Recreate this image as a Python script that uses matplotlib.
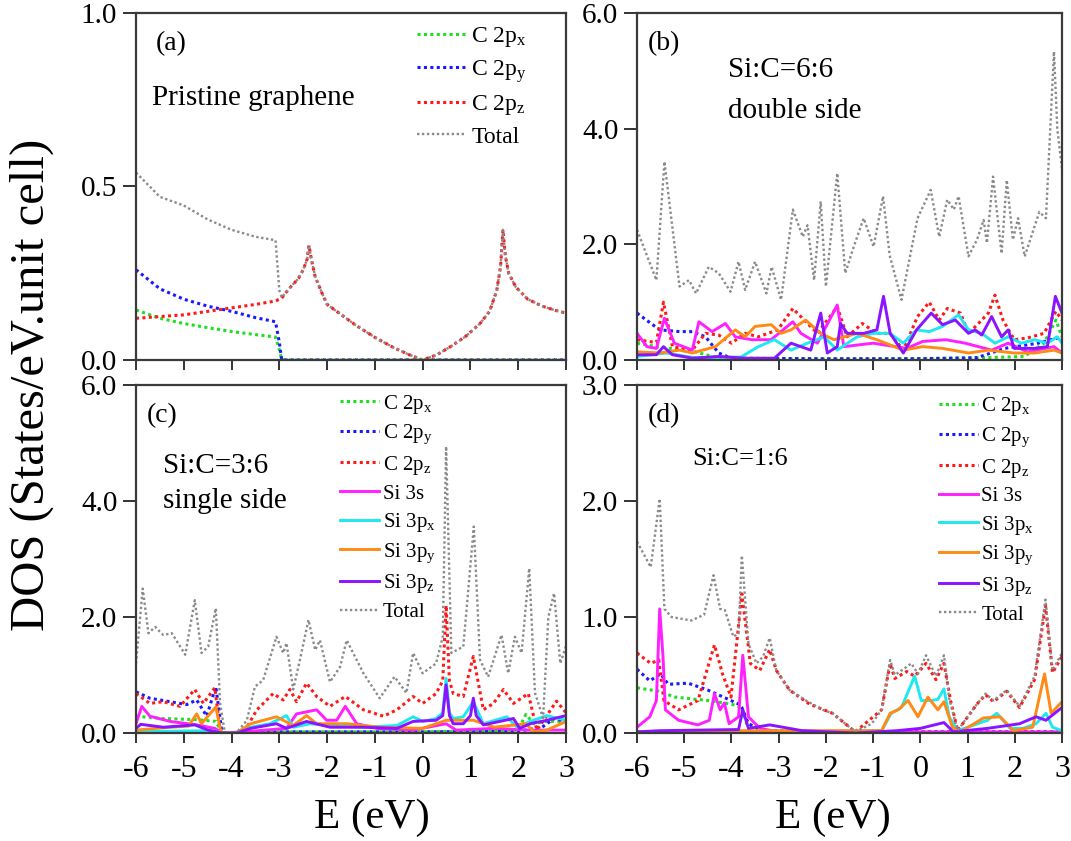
import matplotlib
matplotlib.use("Agg")
import matplotlib.pyplot as plt

plt.rcParams["font.family"] = ["Liberation Serif", "DejaVu Serif"]
plt.rcParams["mathtext.fontset"] = "custom"
plt.rcParams["mathtext.rm"] = "Liberation Serif"
plt.rcParams["axes.unicode_minus"] = False

# ---- (a) pristine graphene ----
a_e = [-6.0, -5.5, -5.0, -4.5, -4.0, -3.5, -3.08, -3.0, -2.95, -2.8, -2.6, -2.5, -2.42, -2.38, -2.33,
       -2.25, -2.1, -2.0, -1.8, -1.4, -1.0, -0.6, -0.3, 0.0, 0.3, 0.6, 0.9, 1.2, 1.4, 1.55,
       1.63, 1.68, 1.73, 1.8, 1.95, 2.2, 2.5, 2.8, 3.0]
a_px = [0.144, 0.12, 0.105, 0.093, 0.082, 0.073, 0.066, 0.03, 0.0, 0, 0, 0, 0, 0, 0,
        0, 0, 0, 0, 0, 0, 0, 0, 0, 0, 0, 0, 0, 0, 0,
        0, 0, 0, 0, 0, 0, 0, 0, 0]
a_py = [0.26, 0.205, 0.175, 0.155, 0.14, 0.122, 0.11, 0.05, 0.0, 0, 0, 0, 0, 0, 0,
        0, 0, 0, 0, 0, 0, 0, 0, 0, 0, 0, 0, 0, 0, 0,
        0, 0, 0, 0, 0, 0, 0, 0, 0]
a_pz = [0.12, 0.125, 0.13, 0.14, 0.15, 0.16, 0.17, 0.175, 0.178, 0.205, 0.235, 0.26, 0.29, 0.33, 0.29,
        0.24, 0.19, 0.16, 0.14, 0.10, 0.065, 0.035, 0.016, 0.0, 0.015, 0.04, 0.068, 0.105, 0.14, 0.2,
        0.27, 0.375, 0.3, 0.25, 0.21, 0.175, 0.155, 0.142, 0.135]
a_total = [0.54, 0.47, 0.445, 0.405, 0.375, 0.355, 0.345, 0.2, 0.18, 0.205, 0.235, 0.26, 0.29, 0.33, 0.29,
           0.24, 0.19, 0.16, 0.14, 0.10, 0.065, 0.035, 0.016, 0.0, 0.015, 0.04, 0.068, 0.105, 0.14, 0.2,
           0.27, 0.375, 0.3, 0.25, 0.21, 0.175, 0.155, 0.142, 0.135]

# ---- (b) Si:C = 6:6, double side ----
b_cpx_e = [-6.0, -5.59, -5.3, -4.9, -4.27, -3.0, -1.0, 1.0, 2.2, 2.62, 2.87, 3.0]
b_cpx = [0.29, 0.23, 0.2, 0.17, 0.03, 0.02, 0.02, 0.03, 0.06, 0.29, 0.69, 0.4]
b_cpy_e = [-6.0, -5.52, -5.1, -4.83, -4.55, -4.27, -4.0, -2.0, 0.0, 1.2, 1.79, 2.49, 3.0]
b_cpy = [0.81, 0.52, 0.49, 0.49, 0.40, 0.12, 0.03, 0.02, 0.02, 0.04, 0.2, 0.29, 0.4]
b_cpz_e = [-6.0, -5.59, -5.44, -5.25, -4.83, -4.55, -4.27, -4.0, -3.71, -3.43, -3.02, -2.70, -2.46, -2.18,
           -1.76, -1.55, -1.23, -0.92, -0.64, -0.36, -0.06, 0.19, 0.40, 0.57, 0.85, 1.02, 1.23, 1.44,
           1.58, 1.75, 1.99, 2.27, 2.62, 2.87, 3.0]
b_cpz = [0.35, 0.3, 1.0, 0.23, 0.17, 0.46, 0.43, 0.29, 0.46, 0.4, 0.52, 0.89, 0.69, 0.46,
         0.92, 0.40, 0.63, 0.46, 0.46, 0.17, 0.75, 1.0, 0.69, 0.89, 0.81, 0.46, 0.63, 0.81,
         1.12, 0.69, 0.35, 0.38, 0.46, 0.84, 0.69]
b_s_e = [-6.0, -5.79, -5.59, -5.42, -5.21, -4.83, -4.69, -4.41, -4.13, -3.92, -3.57, -3.16, -2.70, -2.53,
         -2.18, -1.76, -1.62, -1.0, -0.29, 0.05, 0.54, 0.95, 1.51, 1.86, 2.27, 2.83, 3.0]
b_s = [0.46, 0.23, 0.2, 0.72, 0.29, 0.17, 0.66, 0.49, 0.63, 0.40, 0.35, 0.35, 0.66, 0.46,
       0.29, 0.95, 0.23, 0.29, 0.2, 0.32, 0.35, 0.29, 0.17, 0.29, 0.14, 0.23, 0.12]
b_px_e = [-6.0, -5.38, -4.8, -3.8, -3.43, -3.09, -2.74, -2.39, -2.04, -1.76, -1.34, -0.99, -0.64, -0.36,
          -0.08, 0.19, 0.47, 0.81, 1.02, 1.30, 1.58, 1.86, 2.14, 2.42, 2.69, 2.9, 3.0]
b_px = [0.06, 0.12, 0.04, 0.05, 0.23, 0.35, 0.17, 0.29, 0.40, 0.17, 0.40, 0.46, 0.46, 0.29,
        0.52, 0.49, 0.58, 0.78, 0.52, 0.46, 0.29, 0.40, 0.29, 0.35, 0.29, 0.40, 0.29]
b_py_e = [-6.0, -5.52, -5.10, -4.83, -4.34, -3.92, -3.71, -3.50, -3.16, -2.95, -2.74, -2.43, -2.11,
          -1.83, -1.34, -0.92, -0.36, 0.05, 0.47, 1.02, 1.44, 1.99, 2.42, 2.83, 3.0]
b_py = [0.14, 0.12, 0.17, 0.12, 0.23, 0.52, 0.40, 0.58, 0.61, 0.46, 0.52, 0.69, 0.46,
        0.35, 0.46, 0.35, 0.17, 0.23, 0.2, 0.12, 0.17, 0.12, 0.12, 0.17, 0.12]
b_pz_e = [-6.0, -5.59, -5.44, -5.25, -4.83, -4.27, -3.71, -3.09, -2.74, -2.32, -2.11, -1.97, -1.76,
          -1.69, -1.55, -1.20, -0.92, -0.78, -0.64, -0.36, -0.08, 0.23, 0.47, 0.74, 1.02, 1.16,
          1.30, 1.51, 1.72, 1.86, 1.99, 2.42, 2.69, 2.86, 3.0]
b_pz = [0.09, 0.09, 0.23, 0.09, 0.03, 0.06, 0.03, 0.03, 0.29, 0.17, 0.81, 0.12, 0.23,
        0.63, 0.46, 0.46, 0.52, 1.1, 0.46, 0.12, 0.52, 0.81, 0.61, 0.69, 0.46, 0.52,
        0.43, 0.75, 0.40, 0.52, 0.2, 0.2, 0.23, 1.1, 0.81]
b_total_e = [-6.0, -5.59, -5.42, -5.10, -4.90, -4.75, -4.48, -4.27, -4.02, -3.85, -3.71, -3.5, -3.26,
             -3.15, -2.95, -2.70, -2.49, -2.39, -2.25, -2.11, -2.0, -1.76, -1.59, -1.41, -1.20,
             -0.99, -0.79, -0.65, -0.40, -0.06, 0.22, 0.40, 0.57, 0.71, 0.81, 1.02, 1.20, 1.34,
             1.41, 1.54, 1.72, 1.83, 1.96, 2.07, 2.21, 2.52, 2.66, 2.83, 2.9, 3.0]
b_total = [2.25, 1.38, 3.43, 1.27, 1.38, 1.15, 1.61, 1.5, 1.18, 1.70, 1.21, 1.70, 1.15,
           1.61, 1.04, 2.6, 2.13, 2.33, 1.38, 2.74, 1.27, 3.23, 1.5, 1.96, 2.45,
           1.96, 2.83, 1.81, 1.04, 2.45, 2.94, 2.13, 2.77, 2.6, 2.83, 1.79, 2.08, 2.42,
           2.02, 3.17, 1.84, 3.11, 2.08, 2.45, 1.79, 2.56, 2.45, 5.33, 4.0, 3.3]

# ---- (c) Si:C = 3:6, single side ----
c_cpx_e = [-6.0, -5.43, -4.73, -4.33, -4.2, -3.0, 0.0, 2.0, 2.16, 2.33, 2.6, 3.0]
c_cpx = [0.29, 0.25, 0.23, 0.2, 0.0, 0.02, 0.02, 0.05, 0.32, 0.16, 0.2, 0.2]
c_cpy_e = [-6.0, -5.71, -5.29, -4.94, -4.73, -4.52, -4.33, -4.2, -3.0, 0.0, 2.0, 2.5, 2.75, 3.0]
c_cpy = [0.71, 0.6, 0.54, 0.49, 0.57, 0.29, 0.8, 0.0, 0.02, 0.02, 0.03, 0.1, 0.25, 0.2]
c_cpz_e = [-6.0, -5.86, -5.71, -5.43, -5.08, -4.77, -4.59, -4.35, -4.24, -4.14, -3.84, -3.68, -3.47,
           -3.13, -2.92, -2.78, -2.64, -2.43, -2.22, -1.94, -1.62, -1.24, -0.82, -0.54, -0.2, 0.0,
           0.28, 0.42, 0.49, 0.56, 0.64, 0.85, 1.06, 1.27, 1.48, 1.69, 1.9, 2.21, 2.39, 2.59, 2.8, 3.0]
c_cpz = [0.68, 0.6, 0.51, 0.54, 0.46, 0.75, 0.51, 0.78, 0.05, 0.0, 0.0, 0.1, 0.4,
         0.68, 0.57, 0.75, 0.54, 0.86, 0.63, 0.46, 0.63, 0.4, 0.29, 0.4, 0.63, 0.51,
         0.68, 0.9, 2.2, 0.9, 0.68, 0.63, 1.32, 0.4, 0.51, 0.75, 0.51, 0.68, 0.05, 0.29, 0.55, 0.35]
c_s_e = [-6.0, -5.88, -5.71, -5.29, -4.73, -4.35, -4.2, -3.6, -2.85, -2.64, -2.22, -2.01, -1.8,
         -1.62, -1.38, -0.96, -0.2, 0.49, 0.7, 1.5, 2.2, 3.0]
c_s = [0.16, 0.46, 0.29, 0.2, 0.14, 0.08, 0.0, 0.03, 0.08, 0.33, 0.4, 0.22, 0.22,
       0.46, 0.16, 0.08, 0.05, 0.16, 0.05, 0.08, 0.05, 0.05]
c_px_e = [-6.0, -5.43, -4.4, -4.2, -3.9, -3.6, -3.2, -2.85, -2.71, -2.36, -1.94, -1.24, -0.54, -0.2,
          0.0, 0.28, 0.42, 0.49, 0.56, 0.64, 0.85, 1.06, 1.27, 1.76, 1.97, 2.25, 2.6, 3.0]
c_px = [0.02, 0.03, 0.04, 0.0, 0.0, 0.1, 0.16, 0.3, 0.1, 0.16, 0.13, 0.1, 0.13, 0.28,
        0.2, 0.25, 0.35, 0.94, 0.35, 0.25, 0.28, 0.54, 0.16, 0.28, 0.1, 0.2, 0.3, 0.22]
c_py_e = [-6.0, -5.43, -4.9, -4.73, -4.63, -4.33, -4.22, -3.9, -3.6, -3.06, -2.71, -2.43, -2.22,
          -1.59, -0.9, 0.0, 0.49, 1.06, 1.5, 2.16, 2.33, 2.6, 3.0]
c_py = [0.05, 0.09, 0.12, 0.33, 0.16, 0.45, 0.0, 0.0, 0.16, 0.28, 0.13, 0.3, 0.16,
        0.16, 0.1, 0.08, 0.22, 0.22, 0.1, 0.16, 0.02, 0.05, 0.2]
c_pz_e = [-6.0, -5.9, -5.43, -4.77, -4.49, -4.2, -3.9, -3.6, -3.06, -2.85, -2.43, -1.94, -1.24,
          -0.54, -0.2, 0.28, 0.42, 0.49, 0.56, 0.64, 0.85, 1.0, 1.06, 1.12, 1.27, 1.9, 2.03,
          2.25, 2.6, 3.0]
c_pz = [0.08, 0.15, 0.1, 0.14, 0.05, 0.0, 0.0, 0.08, 0.16, 0.08, 0.2, 0.1, 0.1,
        0.08, 0.2, 0.22, 0.3, 0.83, 0.3, 0.16, 0.16, 0.3, 0.6, 0.3, 0.14, 0.25, 0.08,
        0.16, 0.22, 0.3]
c_total_e = [-6.0, -5.86, -5.74, -5.60, -5.43, -5.25, -4.97, -4.77, -4.63, -4.49, -4.33, -4.24, -4.14,
             -3.9, -3.68, -3.51, -3.34, -3.06, -2.92, -2.85, -2.71, -2.57, -2.39, -2.25, -2.15,
             -1.94, -1.73, -1.59, -1.24, -0.9, -0.59, -0.34, -0.2, 0.0, 0.28, 0.42, 0.49, 0.6,
             0.85, 1.07, 1.2, 1.37, 1.65, 1.79, 1.93, 2.07, 2.23, 2.35, 2.52, 2.63, 2.75, 2.88, 3.0]
c_total = [1.2, 2.49, 1.72, 1.83, 1.69, 1.72, 1.35, 2.29, 1.38, 1.49, 2.15, 0.51, 0.0,
           0.0, 0.22, 0.8, 0.91, 1.66, 1.38, 1.55, 0.75, 1.26, 1.95, 1.43, 1.6,
           0.88, 1.14, 1.6, 1.03, 0.6, 0.97, 0.69, 1.38, 1.03, 1.2, 1.66, 4.94, 1.38,
           1.49, 3.56, 1.26, 0.97, 1.69, 1.03, 1.66, 1.38, 2.84, 0.69, 0.26, 2.0, 2.41, 1.2, 1.5]

# ---- (d) Si:C = 1:6 ----
d_cpx_e = [-6.0, -5.54, -5.2, -4.5, -4.01, -3.78, -3.68, -3.45, -2.0, 3.0]
d_cpx = [0.39, 0.36, 0.31, 0.28, 0.25, 0.22, 0.08, 0.02, 0.01, 0.01]
d_cpy_e = [-6.0, -5.73, -5.5, -5.34, -4.92, -4.5, -4.01, -3.85, -3.78, -3.64, -3.33, -2.0, 0.0, 1.0, 3.0]
d_cpy = [0.55, 0.45, 0.51, 0.42, 0.43, 0.37, 0.28, 0.25, 0.22, 0.08, 0.02, 0.01, 0.01, 0.01, 0.01]
d_cpz_e = [-6.0, -5.71, -5.54, -5.43, -5.12, -4.71, -4.36, -4.19, -4.01, -3.78, -3.6, -3.4, -3.19,
           -3.05, -2.77, -2.35, -1.86, -1.38, -0.82, -0.64, -0.54, -0.29, -0.12, 0.12, 0.33,
           0.5, 0.64, 0.79, 1.2, 1.38, 1.55, 1.83, 2.1, 2.42, 2.65, 2.8, 3.0]
d_cpz = [0.69, 0.6, 0.63, 0.28, 0.2, 0.28, 0.76, 0.51, 0.31, 1.2, 0.6, 0.54, 0.72,
         0.54, 0.37, 0.25, 0.17, 0.01, 0.2, 0.6, 0.47, 0.53, 0.49, 0.6, 0.46,
         0.6, 0.28, 0.02, 0.25, 0.33, 0.27, 0.36, 0.22, 0.46, 1.1, 0.52, 0.66]
d_s_e = [-6.0, -5.73, -5.59, -5.52, -5.45, -5.4, -5.12, -4.71, -4.47, -4.36, -4.24, -4.15, -4.05,
         -3.85, -3.76, -3.64, -3.4, -3.0, 0.0, 3.0]
d_s = [0.05, 0.14, 0.28, 1.07, 0.66, 0.2, 0.11, 0.07, 0.11, 0.34, 0.2, 0.26, 0.08,
       0.14, 0.67, 0.14, 0.04, 0.01, 0.01, 0.01]
d_px_e = [-6.0, -3.0, -0.82, -0.62, -0.4, -0.12, 0.02, 0.23, 0.37, 0.5, 0.61, 0.79, 1.0, 1.42,
          1.62, 1.9, 2.17, 2.45, 2.66, 2.8, 3.0]
d_px = [0.01, 0.01, 0.02, 0.17, 0.22, 0.49, 0.28, 0.28, 0.29, 0.38, 0.14, 0.02, 0.05, 0.11,
        0.17, 0.04, 0.04, 0.08, 0.17, 0.05, 0.02]
d_py_e = [-6.0, -3.8, -0.82, -0.64, -0.47, -0.26, -0.05, 0.16, 0.37, 0.5, 0.68, 0.85, 1.34, 1.69,
          1.97, 2.38, 2.63, 2.77, 3.0]
d_py = [0.01, 0.02, 0.02, 0.17, 0.2, 0.28, 0.14, 0.31, 0.2, 0.27, 0.05, 0.01, 0.13, 0.14,
        0.02, 0.05, 0.51, 0.17, 0.27]
d_pz_e = [-6.0, -5.52, -3.85, -3.76, -3.64, -3.19, -2.5, -1.38, -0.5, 0.0, 0.5, 0.7, 1.42, 2.1,
          2.45, 2.66, 3.0]
d_pz = [0.01, 0.02, 0.03, 0.2, 0.04, 0.07, 0.02, 0.0, 0.02, 0.04, 0.09, 0.01, 0.04, 0.08,
        0.14, 0.11, 0.22]
d_total_e = [-6.0, -5.71, -5.52, -5.42, -5.27, -4.85, -4.58, -4.38, -4.24, -4.14, -3.96, -3.85, -3.78,
             -3.64, -3.47, -3.33, -3.19, -3.05, -2.77, -2.42, -2.07, -1.86, -1.38, -1.03, -0.82,
             -0.64, -0.54, -0.29, -0.19, -0.05, 0.12, 0.33, 0.5, 0.61, 0.79, 1.0, 1.2, 1.38,
             1.55, 1.83, 2.1, 2.42, 2.65, 2.8, 3.0]
d_total = [1.65, 1.43, 2.02, 1.07, 1.0, 0.97, 1.02, 1.36, 1.07, 1.06, 0.83, 0.86, 1.53,
           0.77, 0.6, 0.66, 0.82, 0.54, 0.37, 0.28, 0.2, 0.17, 0.01, 0.08, 0.2,
           0.63, 0.5, 0.57, 0.6, 0.51, 0.67, 0.49, 0.67, 0.3, 0.02, 0.14, 0.25, 0.34,
           0.28, 0.37, 0.23, 0.49, 1.15, 0.54, 0.69]

x_ticks = [-6, -5, -4, -3, -2, -1, 0, 1, 2, 3]

labels = ["C 2p$\\mathregular{_x}$", "C 2p$\\mathregular{_y}$", "C 2p$\\mathregular{_z}$",
          "Si 3s", "Si 3p$\\mathregular{_x}$", "Si 3p$\\mathregular{_y}$", "Si 3p$\\mathregular{_z}$",
          "Total"]
colors = ["#1ee01e", "#1a1aff", "#ff1a1a", "#ff20ff", "#1ee8f0", "#ff8a14", "#8a14ff", "#8a8a8a"]
DOT = (0, (1, 1.1))


def draw_dos(ax, curves):
    # curves: list of (index into labels/colors, energies, dos)
    for k, e, d in curves:
        if k < 3:
            ax.plot(e, d, color=colors[k], lw=2.2, ls=DOT, label=labels[k])
        elif k == 7:
            ax.plot(e, d, color=colors[k], lw=1.7, ls=DOT, label=labels[k])
        else:
            ax.plot(e, d, color=colors[k], lw=2.1, label=labels[k])


def style(ax, ymax, yticks, bottom_row):
    ax.set_xlim(-6, 3)
    ax.set_ylim(0, ymax)
    ax.set_xticks(x_ticks)
    ax.set_yticks(yticks)
    ax.set_yticklabels(["%.1f" % v for v in yticks])
    ax.tick_params(axis="y", direction="out", length=9.5, width=1.4, color="#333333",
                   labelsize=21, pad=4)
    ax.tick_params(axis="x", direction="out", length=7.5, width=1.4, color="#333333",
                   labelsize=23, pad=8, labelbottom=bottom_row)
    for sp in ax.spines.values():
        sp.set_linewidth(1.6)
        sp.set_color("#3a3a3a")
    # Fermi level tick in red
    ax.xaxis.get_major_ticks()[6].tick1line.set_color("red")


fig = plt.figure(figsize=(10.71, 8.41), dpi=100)
ax_a = fig.add_axes([0.127, 0.572, 0.4015, 0.4126])
ax_b = fig.add_axes([0.5948, 0.572, 0.3968, 0.4126])
ax_c = fig.add_axes([0.127, 0.1284, 0.4015, 0.4138])
ax_d = fig.add_axes([0.5948, 0.1284, 0.3968, 0.4138])

draw_dos(ax_a, [(0, a_e, a_px), (1, a_e, a_py), (2, a_e, a_pz), (7, a_e, a_total)])
draw_dos(ax_b, [(0, b_cpx_e, b_cpx), (1, b_cpy_e, b_cpy), (2, b_cpz_e, b_cpz),
                (3, b_s_e, b_s), (4, b_px_e, b_px), (5, b_py_e, b_py), (6, b_pz_e, b_pz),
                (7, b_total_e, b_total)])
draw_dos(ax_c, [(0, c_cpx_e, c_cpx), (1, c_cpy_e, c_cpy), (2, c_cpz_e, c_cpz),
                (3, c_s_e, c_s), (4, c_px_e, c_px), (5, c_py_e, c_py), (6, c_pz_e, c_pz),
                (7, c_total_e, c_total)])
draw_dos(ax_d, [(0, d_cpx_e, d_cpx), (1, d_cpy_e, d_cpy), (2, d_cpz_e, d_cpz),
                (3, d_s_e, d_s), (4, d_px_e, d_px), (5, d_py_e, d_py), (6, d_pz_e, d_pz),
                (7, d_total_e, d_total)])

style(ax_a, 1.0, [0.0, 0.5, 1.0], False)
style(ax_b, 6.0, [0.0, 2.0, 4.0, 6.0], False)
style(ax_c, 6.0, [0.0, 2.0, 4.0, 6.0], True)
style(ax_d, 3.0, [0.0, 1.0, 2.0, 3.0], True)

ax_a.legend(loc="upper left", bbox_to_anchor=(0.653, 0.965), frameon=False, fontsize=17,
            handlelength=2.1, handletextpad=0.2, labelspacing=0.37, borderpad=0, borderaxespad=0)
ax_c.legend(loc="upper left", bbox_to_anchor=(0.474, 0.978), frameon=False, fontsize=15,
            handlelength=1.9, handletextpad=0.15, labelspacing=0.35, borderpad=0, borderaxespad=0)
ax_d.legend(loc="upper left", bbox_to_anchor=(0.71, 0.97), frameon=False, fontsize=15,
            handlelength=1.9, handletextpad=0.15, labelspacing=0.35, borderpad=0, borderaxespad=0)

# panel tags and composition notes
ax_a.text(0.047, 0.893, "(a)", transform=ax_a.transAxes, fontsize=20, va="baseline")
ax_a.text(0.037, 0.735, "Pristine graphene", transform=ax_a.transAxes, fontsize=21, va="baseline")
ax_b.text(0.026, 0.893, "(b)", transform=ax_b.transAxes, fontsize=20, va="baseline")
ax_b.text(0.214, 0.816, "Si:C=6:6", transform=ax_b.transAxes, fontsize=21, va="baseline")
ax_b.text(0.214, 0.697, "double side", transform=ax_b.transAxes, fontsize=21, va="baseline")
ax_c.text(0.026, 0.894, "(c)", transform=ax_c.transAxes, fontsize=20, va="baseline")
ax_c.text(0.063, 0.747, "Si:C=3:6", transform=ax_c.transAxes, fontsize=21, va="baseline")
ax_c.text(0.063, 0.647, "single side", transform=ax_c.transAxes, fontsize=21, va="baseline")
ax_d.text(0.026, 0.894, "(d)", transform=ax_d.transAxes, fontsize=20, va="baseline")
ax_d.text(0.13, 0.77, "Si:C=1:6", transform=ax_d.transAxes, fontsize=19, va="baseline")

fig.text(0.03, 0.542, "DOS (States/eV.unit cell)", rotation=90, fontsize=35,
         ha="center", va="center")
fig.text(0.347, 0.0155, "E (eV)", fontsize=31, ha="center", va="baseline")
fig.text(0.778, 0.0155, "E (eV)", fontsize=31, ha="center", va="baseline")

fig.savefig("out.png", dpi=100)
